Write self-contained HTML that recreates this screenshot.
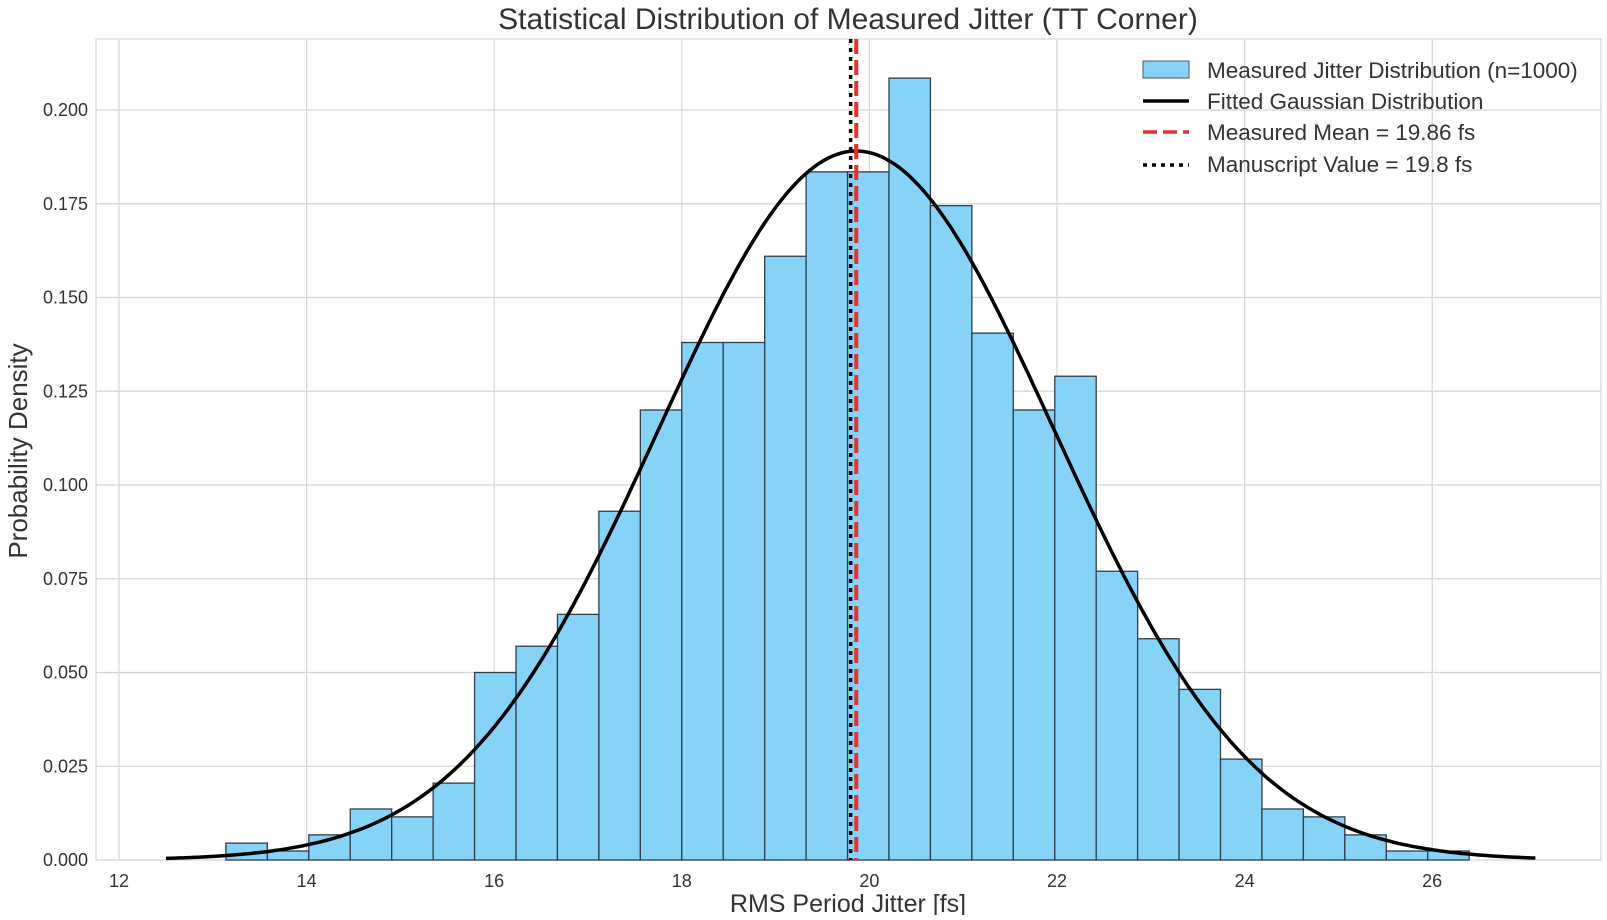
<!DOCTYPE html>
<html><head><meta charset="utf-8"><style>
body{margin:0;background:#fff;}
svg text{font-family:"Liberation Sans",sans-serif;fill:#333;}
</style></head><body>
<svg id="c" width="1607" height="915"></svg>
<script>
const binStart = 13.14;
const binWidth = 0.4418;
const densities = [0.0045,0.0024,0.0067,0.0136,0.0115,0.0205,0.050,0.057,0.0655,0.093,0.120,0.138,0.138,0.161,0.1835,0.1835,0.2085,0.1745,0.1405,0.120,0.129,0.077,0.059,0.0455,0.0269,0.0136,0.0115,0.0067,0.0024,0.0024];
const xTicks = [12,14,16,18,20,22,24,26];
const yTicks = [0,0.025,0.05,0.075,0.1,0.125,0.15,0.175,0.2];
const fitMean = 19.86;
const fitSigma = 2.11;
const manuscriptValue = 19.8;
const curveRange = [12.5, 27.1];

const NS="http://www.w3.org/2000/svg";
const svg=document.getElementById('c');
const L=96,R=1601,T=39,B=860;
const X=v=>119+(v-12)*93.8;
const Y=v=>B-v*3750;
function el(t,a,p){const e=document.createElementNS(NS,t);for(const k in a)e.setAttribute(k,a[k]);(p||svg).appendChild(e);return e;}
function txt(s,a){const e=el('text',a);e.textContent=s;return e;}

el('rect',{x:L,y:T,width:R-L,height:B-T,fill:'#fff',stroke:'#ccc','stroke-width':1});
xTicks.forEach(v=>{
  const g=el('line',{x1:X(v),x2:X(v),y1:T,y2:B,stroke:'#d4d4d4','stroke-width':1.2});
  
  
  const t=txt(String(v),{x:X(v),y:B+27,'text-anchor':'middle','font-size':18});
  
  
});
yTicks.forEach(v=>{
  const g=el('line',{x1:L,x2:R,y1:Y(v),y2:Y(v),stroke:'#d4d4d4','stroke-width':1.2});
  
  
  const t=txt(v.toFixed(3),{x:L-8,y:Y(v)+6,'text-anchor':'end','font-size':18});
  
  
});
densities.forEach((d,i)=>{
  const x0=X(binStart+i*binWidth),x1=X(binStart+(i+1)*binWidth);
  const r=el('rect',{x:x0,y:Y(d),width:x1-x0,height:B-Y(d),fill:'#87d3f8',stroke:'#2f3f48','stroke-width':1.3});
  
  
});
let pts=[];
for(let i=0;i<=300;i++){const v=curveRange[0]+(curveRange[1]-curveRange[0])*i/300;
  const d=Math.exp(-0.5*((v-fitMean)/fitSigma)**2)/(fitSigma*Math.sqrt(2*Math.PI));
  pts.push(X(v).toFixed(1)+','+Y(d).toFixed(1));}
const curve=el('polyline',{points:pts.join(' '),fill:'none',stroke:'#000','stroke-width':3.5});


const ml=el('line',{x1:X(fitMean),x2:X(fitMean),y1:T,y2:B,stroke:'#e8302a','stroke-width':4,'stroke-dasharray':'15,6'});


const mv=el('line',{x1:X(manuscriptValue),x2:X(manuscriptValue),y1:T,y2:B,stroke:'#000','stroke-width':3.5,'stroke-dasharray':'4,5'});



const tt=txt('Statistical Distribution of Measured Jitter (TT Corner)',{x:848,y:29,'text-anchor':'middle','font-size':30});


const xl=txt('RMS Period Jitter [fs]',{x:848,y:912,'text-anchor':'middle','font-size':25});


const yl=txt('Probability Density',{x:0,y:0,'text-anchor':'middle','font-size':26,transform:'translate(27,451) rotate(-90)'});



const lg=el('g',{});


el('rect',{x:1143,y:61,width:46,height:17,fill:'#87d3f8',stroke:'#555','stroke-width':1},lg);
el('line',{x1:1143,x2:1189,y1:101,y2:101,stroke:'#000','stroke-width':3.5},lg);
el('line',{x1:1143,x2:1189,y1:132,y2:132,stroke:'#e8302a','stroke-width':3.5,'stroke-dasharray':'14,6'},lg);
el('line',{x1:1143,x2:1189,y1:165,y2:165,stroke:'#000','stroke-width':3.5,'stroke-dasharray':'4,5'},lg);
[['Measured Jitter Distribution (n=1000)',78],['Fitted Gaussian Distribution',109],['Measured Mean = 19.86 fs',140],['Manuscript Value = 19.8 fs',172]].forEach(([s,y])=>{
  const t=txt(s,{x:1207,y:y,'font-size':22.5});lg.appendChild(t);
  
  
});
</script>
</body></html>
